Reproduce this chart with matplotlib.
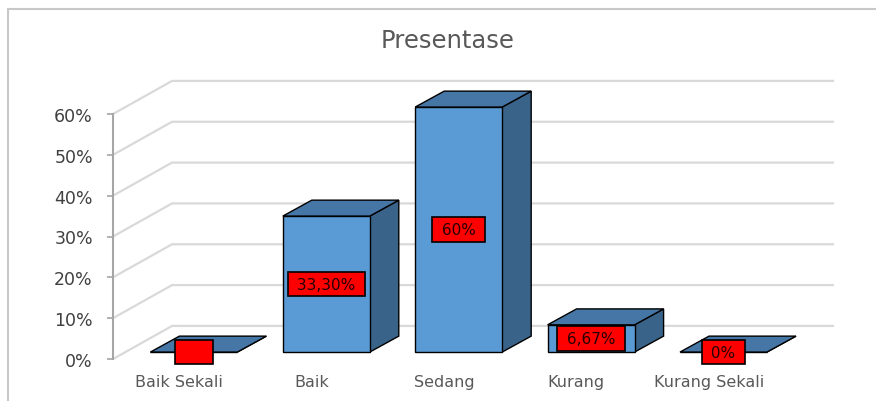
import matplotlib.pyplot as plt
from matplotlib.patches import Polygon
from matplotlib.lines import Line2D

# data
kategori = ['Baik Sekali', 'Baik', 'Sedang', 'Kurang', 'Kurang Sekali']
persen = [0, 33.3, 60, 6.67, 0]
label_nilai = ['\u2007\u2007', '33,30%', '60%', '6,67%', '0%']
y_ticks = [0, 10, 20, 30, 40, 50, 60]

# 3D look (in data units: category / percent)
DX, DY = 0.446, 8.1          # depth of floor / back wall
BX, BY = 0.111, 1.7          # bar front offset from the front plane
BDX, BDY = 0.219, 3.9        # bar depth
W = 0.657                    # bar width

c_front = '#5b9bd5'
c_top = '#4576a6'
c_side = '#3a6389'
c_grid = '#d9d9d9'

fig = plt.figure(figsize=(8.76, 4.02), dpi=100)
ax = fig.add_axes([113 / 876, 42 / 402, 662 / 876, 245 / 402])
ax.set_xlim(-0.5, 4.5)
ax.set_ylim(0, 60)

# back wall and floor gridlines
for v in y_ticks:
    ax.plot([-0.5, -0.5 + DX, 4.5 + DX], [v, v + DY, v + DY],
            color=c_grid, lw=1.6, clip_on=False, zorder=1, solid_capstyle='butt')

# bars
for i, v in enumerate(persen):
    x0 = i - W / 2 + BX
    x1 = i + W / 2 + BX
    y0 = BY
    y1 = BY + v
    front = [(x0, y0), (x1, y0), (x1, y1), (x0, y1)]
    top = [(x0, y1), (x1, y1), (x1 + BDX, y1 + BDY), (x0 + BDX, y1 + BDY)]
    side = [(x1, y0), (x1 + BDX, y0 + BDY), (x1 + BDX, y1 + BDY), (x1, y1)]
    for pts, col in [(side, c_side), (front, c_front), (top, c_top)]:
        ax.add_patch(Polygon(pts, closed=True, fc=col, ec='black', lw=1,
                             clip_on=False, zorder=3, joinstyle='miter'))
    ax.text(i + BX, BY + v / 2, ' ' + label_nilai[i] + ' ', ha='center', va='center',
            fontsize=11, color='#260000', zorder=5, clip_on=False,
            bbox=dict(boxstyle='square,pad=0.3', fc='#ff0000', ec='black', lw=1.2))

# axes styling
for s in ['top', 'right', 'bottom']:
    ax.spines[s].set_visible(False)
ax.spines['left'].set_color('#a6a6a6')
ax.spines['left'].set_linewidth(1.5)
ax.set_yticks(y_ticks)
ax.set_yticklabels([f'{t}%' for t in y_ticks])
ax.tick_params(axis='y', direction='out', length=4.5, width=1.2, color='#a6a6a6',
               pad=10, labelsize=12.5, labelcolor='#404040')
ax.set_xticks(range(len(kategori)))
ax.set_xticklabels(kategori)
ax.tick_params(axis='x', length=0, pad=11, labelsize=11.5, labelcolor='#595959')
ax.patch.set_visible(False)

fig.text(448 / 876, 1 - 41 / 402, 'Presentase', ha='center', va='center',
         fontsize=17.5, color='#595959')

# chart frame
fig.add_artist(Line2D([8 / 876, 1], [1 - 10 / 402] * 2, transform=fig.transFigure,
                      color='#c8c8c8', lw=1.5))
fig.add_artist(Line2D([8 / 876] * 2, [0, 1 - 10 / 402], transform=fig.transFigure,
                      color='#c8c8c8', lw=1.5))

fig.savefig('out.png', dpi=100)
